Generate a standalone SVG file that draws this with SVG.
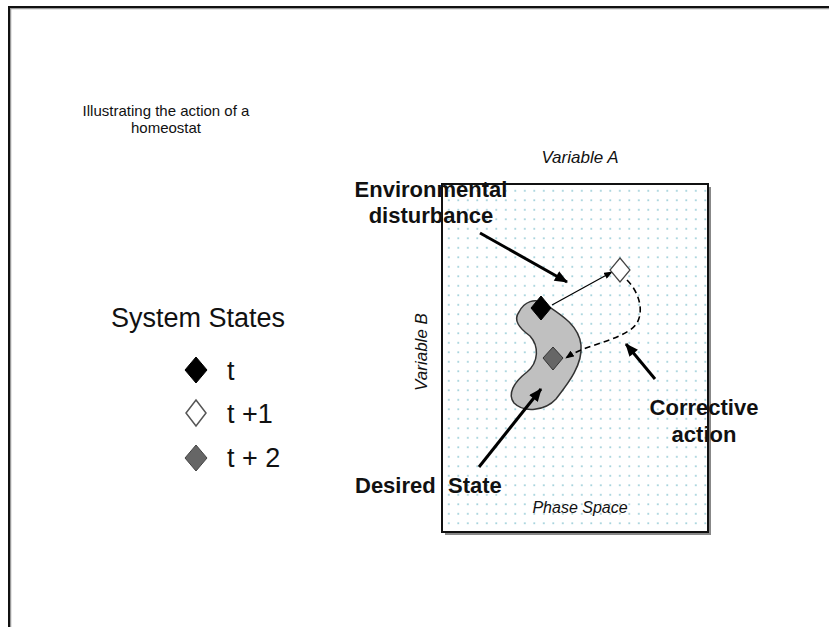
<svg xmlns="http://www.w3.org/2000/svg" width="829" height="627" viewBox="0 0 829 627">
  <defs>
    <style>
      .lbl { font-family: "Liberation Sans", Arial, sans-serif; fill: #111; }
      .bold { font-weight: bold; font-size: 22px; text-anchor: middle; }
      .axis { font-style: italic; font-size: 17px; text-anchor: middle; }
      .legend { font-size: 27px; }
      .thick { stroke: #000; stroke-width: 3; fill: none; }
    </style>
    <pattern id="dots" x="444" y="186" width="9.5" height="9.5" patternUnits="userSpaceOnUse">
      <rect x="4" y="4" width="1.6" height="1.6" fill="#8cc6d2"/>
    </pattern>
    <marker id="headBig" viewBox="0 0 12 10" refX="11" refY="5" markerWidth="14" markerHeight="11" markerUnits="userSpaceOnUse" orient="auto">
      <path d="M0,0 L12,5 L0,10 Z" fill="#000"/>
    </marker>
    <marker id="headSmall" viewBox="0 0 10 8" refX="9" refY="4" markerWidth="9" markerHeight="7" markerUnits="userSpaceOnUse" orient="auto">
      <path d="M0,0 L10,4 L0,8 Z" fill="#000"/>
    </marker>
  </defs>

  <rect width="829" height="627" fill="#fff"/>

  <!-- outer frame -->
  <g id="frame">
    <path d="M10.5,627 V8.5 H829" fill="none" stroke="#999" stroke-width="1.5"/>
    <path d="M9,627 V7 H829" fill="none" stroke="#111" stroke-width="2"/>
  </g>

  <!-- title -->
  <g id="title">
    <text class="lbl" font-size="15" text-anchor="middle" x="166" y="116">Illustrating the action of a</text>
    <text class="lbl" font-size="15" text-anchor="middle" x="166" y="133">homeostat</text>
  </g>

  <!-- legend -->
  <g id="legend">
    <text class="lbl legend" x="198" y="327" text-anchor="middle">System States</text>
    <path d="M196,357 L207,370 L196,383 L185,370 Z" fill="#000" stroke="#000" stroke-width="1"/>
    <text class="lbl legend" x="227" y="380">t</text>
    <path d="M196,400 L206,413 L196,426 L186,413 Z" fill="#fff" stroke="#555" stroke-width="1.5"/>
    <text class="lbl legend" x="227" y="423">t +1</text>
    <path d="M196,445 L207,458 L196,471 L185,458 Z" fill="#666" stroke="#444" stroke-width="1"/>
    <text class="lbl legend" x="227" y="467">t + 2</text>
  </g>

  <!-- phase space -->
  <g id="phase-space">
    <rect x="445" y="187" width="266" height="348" fill="#888"/>
    <rect x="442" y="184" width="266" height="348" fill="#fff"/>
    <rect x="442" y="184" width="266" height="348" fill="url(#dots)" stroke="#111" stroke-width="2"/>
    <text class="lbl axis" x="580" y="163">Variable A</text>
    <text class="lbl axis" transform="translate(427,352) rotate(-90)" x="0" y="0">Variable B</text>
    <text class="lbl" font-style="italic" font-size="16" text-anchor="middle" x="580" y="513">Phase Space</text>
  </g>

  <!-- desired region -->
  <g id="desired-region">
    <path d="M519,312 C524,302 535,297 545,304 C560,314 579,325 581,345 C583,366 566,386 556,399 C545,411 524,413 514,403 C507,394 514,382 527,372 C539,362 539,346 530,336 C519,328 513,320 519,312 Z" fill="#c0c0c0" stroke="#333" stroke-width="1.5"/>
  </g>

  <!-- connectors -->
  <g id="connectors">
    <line x1="552" y1="305" x2="612" y2="272" stroke="#000" stroke-width="1.2" marker-end="url(#headSmall)"/>
    <path d="M627,280 C642,295 646,320 630,330 C610,343 585,345 566,358" fill="none" stroke="#000" stroke-width="1.6" stroke-dasharray="6,4" marker-end="url(#headSmall)"/>
    <line class="thick" x1="480" y1="233" x2="567" y2="282" marker-end="url(#headBig)"/>
    <line class="thick" x1="479" y1="467" x2="541" y2="389" marker-end="url(#headBig)"/>
    <line class="thick" x1="655" y1="379" x2="626" y2="344" marker-end="url(#headBig)"/>
  </g>

  <!-- states -->
  <g id="state-t">
    <path d="M541,296 L551,308 L541,320 L531,308 Z" fill="#000" stroke="#000" stroke-width="1"/>
  </g>
  <g id="state-t1">
    <path d="M620,258 L630,270 L620,282 L610,270 Z" fill="#fff" stroke="#444" stroke-width="1.2"/>
  </g>
  <g id="state-t2">
    <path d="M553,347 L563,358 L553,370 L543,358 Z" fill="#666" stroke="#333" stroke-width="1"/>
  </g>

  <!-- labels -->
  <g id="label-disturbance">
    <text class="lbl bold" x="431" y="197">Environmental</text>
    <text class="lbl bold" x="431" y="223">disturbance</text>
  </g>
  <g id="label-corrective">
    <text class="lbl bold" x="704" y="415">Corrective</text>
    <text class="lbl bold" x="704" y="442">action</text>
  </g>
  <g id="label-desired">
    <text class="lbl" font-weight="bold" font-size="22"><tspan x="355" y="493">Desired</tspan><tspan x="448" y="493">State</tspan></text>
  </g>
</svg>
